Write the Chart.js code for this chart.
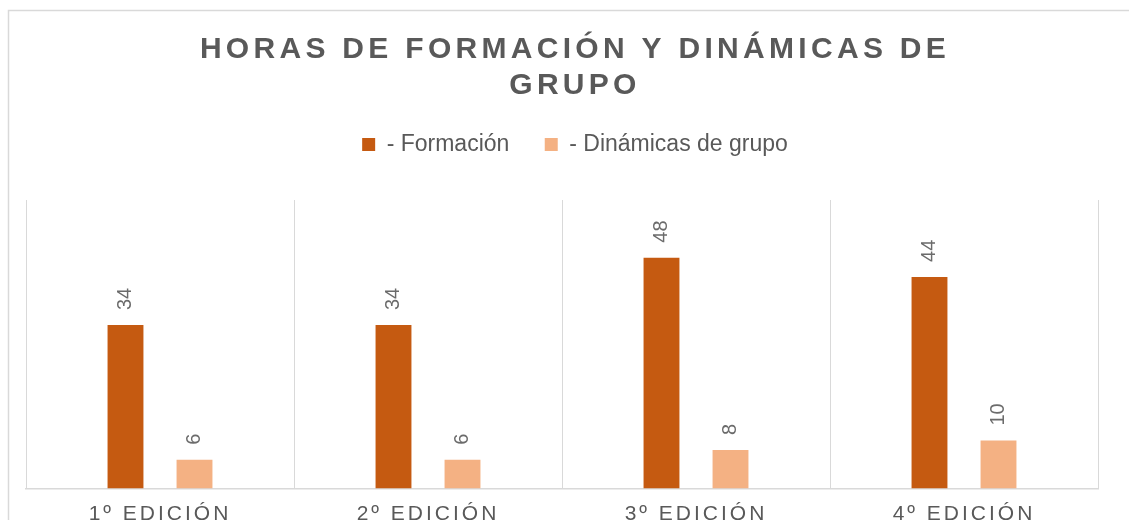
<!DOCTYPE html>
<html>
<head>
<meta charset="utf-8">
<script src="https://cdn.jsdelivr.net/npm/chart.js@4.4.1/dist/chart.umd.min.js"></script>
<style>
  html, body { margin: 0; padding: 0; background: #ffffff; overflow: hidden; }
  canvas { display: block; }
</style>
</head>
<body>
<canvas id="c" width="1129" height="539"></canvas>
<script>
// ---- data ----
const categories = ['1º EDICIÓN', '2º EDICIÓN', '3º EDICIÓN', '4º EDICIÓN'];
const seriesNames = ['- Formación', '- Dinámicas de grupo'];
const formacion = [34, 34, 48, 44];
const dinamicas = [6, 6, 8, 10];
const titleLines = ['HORAS DE FORMACIÓN Y DINÁMICAS DE', 'GRUPO'];
const seriesColors = ['#C55A11', '#F4B183'];

const FONT = "'Liberation Sans', Arial, Helvetica, sans-serif";
const TEXT = '#595959';

const framePlugin = {
  id: 'frame',
  beforeInit(chart) {
    const lg = chart.legend;
    if (lg) {
      const fit = lg.fit.bind(lg);
      lg.fit = function () { fit(); this.height += 34; };
    }
    const tb = chart.titleBlock;
    if (tb) {
      const d = tb.draw.bind(tb);
      tb.draw = function (a) { const ctx = this.ctx; ctx.save(); ctx.letterSpacing = '4.3px'; d(a); ctx.restore(); };
    }
  },
  beforeDraw(chart) {
    const ctx = chart.ctx;
    ctx.save();
    ctx.strokeStyle = '#d9d9d9';
    ctx.lineWidth = 1.5;
    ctx.strokeRect(8.5, 10.5, 2000, 2000);
    ctx.restore();
    const s = chart.scales.x;
    if (s && !s._lsPatched) {
      const o = s.drawLabels.bind(s);
      s.drawLabels = function (a) { const ctx = this.ctx; ctx.save(); ctx.letterSpacing = '3px'; o(a); ctx.restore(); };
      s._lsPatched = true;
    }
  },
  afterDatasetsDraw(chart) {
    const ctx = chart.ctx;
    ctx.save();
    ctx.fillStyle = '#6b6b6b';
    ctx.font = '20px ' + FONT;
    ctx.textAlign = 'left';
    ctx.textBaseline = 'middle';
    chart.data.datasets.forEach((ds, di) => {
      const meta = chart.getDatasetMeta(di);
      meta.data.forEach((bar, i) => {
        ctx.save();
        ctx.translate(bar.x, bar.y - 15);
        ctx.rotate(-Math.PI / 2);
        ctx.fillText(String(ds.data[i]), 0, 0);
        ctx.restore();
      });
    });
    ctx.restore();
  }
};

new Chart(document.getElementById('c'), {
  type: 'bar',
  data: {
    labels: categories,
    datasets: [
      { label: seriesNames[0], data: formacion, backgroundColor: seriesColors[0], borderWidth: 0 },
      { label: seriesNames[1], data: dinamicas, backgroundColor: seriesColors[1], borderWidth: 0 }
    ]
  },
  options: {
    responsive: false,
    animation: false,
    devicePixelRatio: 1,
    datasets: { bar: { barPercentage: 0.52, categoryPercentage: 0.515 } },
    layout: { padding: { left: 21, right: 0, top: 0, bottom: 0 } },
    plugins: {
      title: {
        display: true,
        text: titleLines,
        color: TEXT,
        font: { family: FONT, size: 30, weight: 'bold', lineHeight: 1.2 },
        padding: { top: 32, bottom: 0 }
      },
      legend: {
        display: true,
        position: 'top',
        labels: {
          color: TEXT,
          font: { family: FONT, size: 23 },
          boxWidth: 13,
          boxHeight: 13,
          padding: 29,
          generateLabels(chart) {
            const items = Chart.defaults.plugins.legend.labels.generateLabels(chart);
            items.forEach((it, i) => { if (i < items.length - 1) it.text = it.text + ' '; it.lineWidth = 0; });
            return items;
          }
        }
      },
      tooltip: { enabled: false }
    },
    scales: {
      x: {
        grid: { display: true, color: '#d9d9d9', lineWidth: 1, drawTicks: false, offset: true },
        border: { display: true, color: '#d9d9d9', width: 1.5 },
        ticks: { color: TEXT, font: { family: FONT, size: 21, lineHeight: 1.2 }, padding: 12.6, maxRotation: 0, autoSkip: false }
      },
      y: {
        position: 'left',
        min: 0,
        max: 60,
        grid: { display: false },
        border: { display: false },
        ticks: { display: false },
        afterFit(scale) { scale.width = 5; }
      },
      y2: {
        type: 'linear',
        position: 'right',
        grid: { display: false },
        border: { display: false },
        ticks: { display: false },
        afterFit(scale) { scale.width = 31; }
      }
    }
  },
  plugins: [framePlugin]
});
</script>
</body>
</html>
